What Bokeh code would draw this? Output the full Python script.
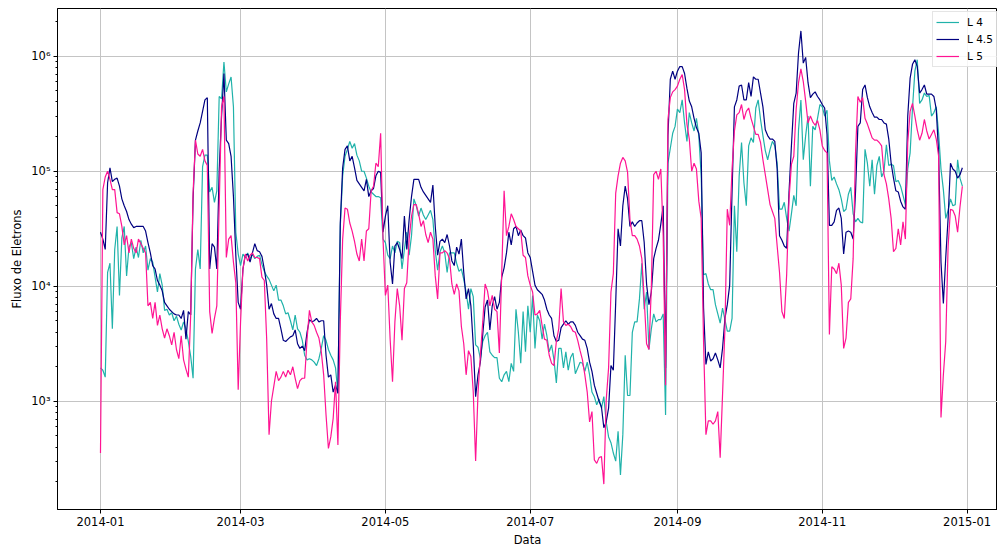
import numpy as np
import pandas as pd
from datetime import datetime, timedelta
from bokeh.plotting import figure
from bokeh.models import Range1d, FixedTicker, DatetimeTickFormatter, Legend, LegendItem
from bokeh.embed import file_html
from bokeh.resources import INLINE

# ---------------- data (daily values, log10 of the flux) ----------------
START_DATE = "2014-01-01"
N_DAYS = 364

series_names = ["L 4", "L 4.5", "L 5"]
series_colors = ["lightseagreen", "navy", "deeppink"]

log10_flux_L4 = [
    3.29,3.27,3.21,4.12,4.20,3.63,4.32,4.52,3.92,4.42,4.52,4.09,4.34,4.38,4.24,4.34,4.25,4.40,4.29,4.35,
    4.14,4.24,4.21,4.08,3.95,4.11,4.01,3.79,3.80,3.75,3.77,3.70,3.74,3.67,3.62,3.69,3.63,3.52,3.39,3.20,
    4.15,4.32,4.15,5.04,5.14,5.14,4.82,4.86,4.73,4.83,5.65,5.63,5.95,5.69,5.76,5.82,5.56,4.47,4.28,4.18,
    4.28,4.25,4.29,4.24,4.28,4.24,4.26,4.27,4.19,4.13,4.09,4.06,4.01,3.96,4.01,3.88,3.88,3.83,3.76,3.77,
    3.70,3.62,3.75,3.63,3.60,3.53,3.40,3.36,3.37,3.36,3.34,3.31,3.37,3.46,3.57,3.53,3.45,3.40,3.36,3.29,
    3.07,4.52,4.96,5.13,5.19,5.26,5.20,5.24,5.14,5.09,5.00,5.00,4.94,4.87,4.82,4.80,4.78,4.78,4.77,4.41,
    4.38,4.27,4.24,4.35,4.29,4.39,4.38,4.15,4.32,4.47,4.27,4.44,4.76,4.70,4.61,4.68,4.62,4.58,4.62,4.66,
    4.58,4.31,4.14,4.30,4.35,4.29,4.12,4.29,4.29,4.29,4.20,4.13,4.15,4.06,3.95,3.80,3.98,3.91,3.49,3.47,
    3.37,3.52,3.57,3.60,3.43,3.40,3.38,3.38,3.20,3.17,3.23,3.26,3.17,3.33,3.26,3.80,3.60,3.33,3.78,3.43,
    3.83,3.60,3.92,3.46,3.75,3.70,3.54,3.67,3.57,3.43,3.49,3.36,3.16,3.46,3.46,3.29,3.43,3.27,3.38,3.42,
    3.24,3.29,3.34,3.33,3.26,3.34,3.23,3.08,3.04,2.97,3.02,2.94,3.04,2.82,2.69,2.64,2.55,2.48,2.74,2.36,
    2.71,3.40,3.05,3.05,3.60,3.69,3.69,3.89,4.20,3.80,3.95,3.45,3.63,3.76,3.69,3.71,3.71,3.76,2.88,5.07,
    5.20,5.33,5.39,5.54,5.51,5.62,5.42,5.26,5.51,5.42,5.35,5.46,5.31,4.96,4.10,4.11,4.02,3.97,3.97,3.84,
    3.76,3.68,3.81,3.71,3.61,3.61,3.72,4.70,4.30,4.96,5.25,4.90,4.70,5.22,5.29,5.25,5.55,5.62,5.45,5.31,
    5.18,5.10,5.19,5.26,5.22,5.07,4.67,4.67,4.73,4.59,4.48,4.63,4.79,4.70,5.36,5.62,5.10,5.31,5.48,4.87,
    5.39,5.36,5.46,5.58,5.56,5.48,5.53,5.09,4.92,4.95,4.89,4.84,4.76,4.65,4.67,4.80,4.86,4.63,4.56,4.59,
    4.56,4.55,5.19,5.07,4.87,5.10,4.80,5.05,5.13,4.95,5.00,5.23,5.05,5.06,5.05,4.91,4.92,4.87,4.79,4.71,
    5.02,5.16,5.55,5.87,5.97,5.59,5.62,5.68,5.65,5.66,5.48,5.51,5.56,5.33,5.02,4.84,4.59,4.66,4.76,4.70,
    4.71,5.10,4.94,4.87,
]

log10_flux_L45 = [
    4.47,4.41,4.32,4.90,5.03,4.91,4.93,4.94,4.87,4.76,4.70,4.65,4.58,4.54,4.51,4.52,4.52,4.52,4.52,4.48,
    4.38,4.29,4.18,4.15,4.05,4.01,3.96,3.86,3.83,3.80,3.78,3.76,3.75,3.75,3.72,3.79,3.54,3.78,3.75,4.76,
    5.27,5.35,5.42,5.52,5.62,5.64,4.15,4.37,4.34,4.15,5.01,5.48,5.85,5.27,5.24,5.13,4.78,4.27,3.86,3.80,
    4.15,4.27,4.28,4.21,4.29,4.37,4.31,4.30,4.26,4.15,4.01,3.80,3.85,3.76,3.72,3.72,3.63,3.53,3.52,3.54,
    3.56,3.57,3.62,3.50,3.46,3.48,3.44,3.60,3.71,3.69,3.70,3.72,3.69,3.70,3.70,3.40,3.21,3.23,3.08,3.14,
    3.07,4.55,5.03,5.19,5.22,5.09,5.13,5.03,4.92,4.89,4.86,4.83,4.93,4.78,4.83,4.85,4.96,5.00,4.99,4.47,
    4.61,4.70,4.21,4.02,4.35,4.38,4.32,4.24,4.61,4.32,4.58,4.78,4.93,4.93,4.93,4.86,4.82,4.79,4.76,4.73,
    4.88,4.52,4.27,4.39,4.41,4.38,4.45,4.35,4.22,4.18,4.34,4.28,4.41,4.12,3.89,3.98,3.83,3.49,3.04,3.23,
    3.34,3.58,3.82,3.88,3.62,3.83,3.91,3.80,3.86,4.08,4.16,4.29,4.47,4.36,4.50,4.52,4.44,4.49,4.44,4.42,
    4.29,4.25,4.13,4.01,3.97,3.95,3.93,3.88,3.80,3.75,3.72,3.57,3.52,3.53,3.64,3.67,3.70,3.67,3.69,3.69,
    3.66,3.60,3.57,3.54,3.53,3.46,3.34,3.26,3.14,3.07,3.00,2.95,2.77,2.82,2.94,3.31,3.27,3.86,4.50,4.35,
    4.70,4.87,4.76,4.52,4.56,4.52,4.55,4.57,4.57,4.38,4.02,3.84,3.95,4.24,4.33,4.40,4.54,4.70,3.29,5.31,
    5.80,5.87,5.80,5.87,5.91,5.91,5.85,5.72,5.61,5.56,5.46,5.38,5.33,5.16,3.81,3.32,3.43,3.35,3.37,3.42,
    3.36,3.29,3.46,3.72,3.84,4.01,4.82,5.56,5.62,5.74,5.75,5.62,5.62,5.77,5.65,5.82,5.80,5.80,5.68,5.56,
    5.36,5.31,5.28,5.28,5.26,5.02,4.44,4.40,4.35,4.33,4.82,5.22,5.59,5.68,6.03,6.22,5.94,5.99,5.77,5.64,
    5.67,5.69,5.65,5.62,5.58,5.55,5.32,4.53,4.53,4.56,4.66,4.68,4.59,4.28,4.47,4.48,4.47,4.41,4.82,5.39,
    5.42,5.71,5.75,5.64,5.56,5.51,5.47,5.47,5.45,5.45,5.42,5.41,5.28,5.07,4.94,4.83,4.82,4.74,4.69,4.67,
    5.48,5.81,5.93,5.97,5.91,5.68,5.71,5.75,5.67,5.67,5.67,5.65,5.54,5.16,4.21,3.85,4.25,4.59,5.07,5.02,
    5.00,4.94,4.97,5.03,
]

log10_flux_L5 = [
    2.55,4.84,4.95,5.00,4.93,4.84,4.84,4.64,4.63,4.52,4.36,4.44,4.29,4.41,4.33,4.29,4.41,4.37,4.33,4.29,
    3.83,3.86,3.72,3.86,3.66,3.75,3.63,3.55,3.63,3.57,3.49,3.60,3.45,3.37,3.57,3.36,3.28,3.21,3.75,4.81,
    5.27,5.15,5.13,5.19,5.09,5.05,3.78,3.59,3.72,3.83,4.70,5.56,5.65,4.25,4.41,4.44,4.21,4.03,3.10,3.69,
    4.15,4.28,4.22,4.27,4.29,4.25,4.25,4.24,4.08,4.05,3.54,2.71,3.00,3.13,3.26,3.18,3.21,3.26,3.21,3.27,
    3.23,3.30,3.20,3.11,3.18,3.20,3.20,3.54,3.79,3.69,3.66,3.60,3.55,3.43,3.23,2.88,2.59,2.69,2.85,3.17,
    2.62,3.69,4.41,4.68,4.67,4.55,4.48,4.39,4.28,4.22,4.41,4.22,4.48,4.50,4.83,4.87,5.07,5.04,5.33,4.41,
    3.92,4.01,3.54,3.17,3.69,3.98,3.83,3.53,3.98,4.03,4.41,4.61,4.71,4.71,4.63,4.52,4.57,4.45,4.38,4.47,
    4.41,4.09,3.89,4.29,4.29,4.31,4.29,4.24,4.02,3.93,4.02,3.96,3.65,3.50,3.23,3.44,3.39,3.08,2.48,3.07,
    3.40,3.69,4.02,3.96,3.83,3.92,3.80,3.78,3.42,4.12,4.83,4.44,4.52,4.63,4.58,4.52,4.50,4.48,4.27,4.25,
    4.09,4.01,3.95,3.75,3.76,3.79,3.66,3.54,3.53,3.40,3.33,3.31,3.52,3.63,3.98,3.69,3.66,3.67,3.65,3.61,
    3.60,3.53,3.44,3.36,3.23,3.08,2.82,2.91,2.49,2.46,2.51,2.52,2.28,3.01,3.29,3.95,4.11,4.81,4.96,5.07,
    5.12,5.09,4.99,4.58,4.44,4.44,4.41,4.35,4.24,3.89,3.50,3.45,3.98,4.97,5.00,4.93,5.02,4.44,3.14,5.45,
    5.64,5.69,5.71,5.74,5.80,5.84,5.71,5.41,5.28,5.00,5.07,5.02,4.74,4.59,3.52,2.71,2.83,2.83,2.80,2.83,
    2.91,2.51,3.06,3.63,4.67,4.53,5.02,5.35,5.49,5.51,5.58,5.45,5.52,5.55,5.46,5.39,5.32,5.32,5.25,5.10,
    4.97,4.84,4.71,4.65,4.59,4.35,4.12,3.78,3.72,4.10,4.76,5.06,5.13,5.54,5.77,5.89,5.78,5.61,5.42,5.48,
    5.43,5.40,5.44,5.36,5.22,5.18,5.16,3.58,4.17,4.15,4.11,4.20,4.01,3.46,3.55,3.86,3.89,4.24,5.16,5.65,
    5.60,5.64,5.46,5.41,5.35,5.29,5.27,5.27,5.25,5.22,4.97,4.89,4.76,4.59,4.30,4.33,4.50,4.36,4.56,4.41,
    5.25,5.52,5.59,5.48,5.36,5.27,5.33,5.45,5.35,5.28,5.32,5.36,5.28,5.13,2.86,3.23,3.52,4.35,4.67,4.66,
    4.61,4.47,4.69,4.87,
]

x_tick_dates = ["2014-01-01", "2014-03-01", "2014-05-01", "2014-07-01",
                "2014-09-01", "2014-11-01", "2015-01-01"]
y_tick_values = [1e3, 1e4, 1e5, 1e6]
y_tick_labels = ["10\u00b3", "10\u2074", "10\u2075", "10\u2076"]

# ---------------- figure ----------------
FONT = "DejaVu Sans"
dates = pd.date_range(START_DATE, periods=N_DAYS, freq="D")
t0 = datetime(2014, 1, 1)

p = figure(width=997, height=549, x_axis_type="datetime", y_axis_type="log",
           output_backend="svg", toolbar_location=None,
           x_range=Range1d(t0 - timedelta(days=18.1), t0 + timedelta(days=377.8)),
           y_range=Range1d(10 ** 2.059, 10 ** 6.415),
           min_border_left=57, min_border_right=0, min_border_top=8, min_border_bottom=37)

p.background_fill_color = "white"
p.border_fill_color = "white"
p.outline_line_color = "black"
p.outline_line_width = 1

renderers = []
for name, color, vals in zip(series_names, series_colors,
                             [log10_flux_L4, log10_flux_L45, log10_flux_L5]):
    flux = 10 ** np.array(vals)
    r = p.line(dates, flux, line_color=color, line_width=1.2)
    renderers.append((name, r))

# x axis
tick_ms = [pd.Timestamp(d).value / 1e6 for d in x_tick_dates]
p.xaxis.ticker = FixedTicker(ticks=tick_ms)
fmt = "%Y-%m"
p.xaxis.formatter = DatetimeTickFormatter(milliseconds=fmt, seconds=fmt, minsec=fmt, minutes=fmt,
                                          hourmin=fmt, hours=fmt, days=fmt, months=fmt, years=fmt)
p.xaxis.axis_label = "Data"

# y axis
minor = [m * 10.0 ** e for e in range(2, 7) for m in range(2, 10)]
p.yaxis.ticker = FixedTicker(ticks=y_tick_values, minor_ticks=minor)
p.yaxis.major_label_overrides = {v: lab for v, lab in zip(y_tick_values, y_tick_labels)}
p.yaxis.axis_label = "Fluxo de Eletrons"

for ax in (p.xaxis, p.yaxis):
    ax.axis_line_color = "black"
    ax.major_tick_line_color = "black"
    ax.major_tick_in = 0
    ax.major_tick_out = 4
    ax.minor_tick_in = 0
    ax.minor_tick_out = 2
    ax.major_label_text_font = FONT
    ax.major_label_text_font_size = "11.5px"
    ax.major_label_text_color = "black"
    ax.axis_label_text_font = FONT
    ax.axis_label_text_font_size = "11.5px"
    ax.axis_label_text_font_style = "normal"
    ax.axis_label_text_color = "black"
    ax.major_label_standoff = 3
    ax.axis_label_standoff = 4
p.xaxis.minor_tick_line_color = None
p.yaxis.minor_tick_line_color = "black"

p.xgrid.grid_line_color = "#c4c4c4"
p.ygrid.grid_line_color = "#c4c4c4"
p.xgrid.grid_line_width = 1
p.ygrid.grid_line_width = 1

legend = Legend(items=[LegendItem(label=n, renderers=[r]) for n, r in renderers],
                location=(875, 442))
legend.label_text_font = FONT
legend.label_text_font_size = "10.5px"
legend.label_text_color = "black"
legend.glyph_width = 23
legend.glyph_height = 14
legend.label_height = 14
legend.label_standoff = 8
legend.spacing = 3
legend.padding = 3
legend.margin = 0
legend.border_line_color = "#cccccc"
legend.background_fill_alpha = 0.85
p.add_layout(legend)

open("out.html", "w").write(file_html(p, INLINE))
